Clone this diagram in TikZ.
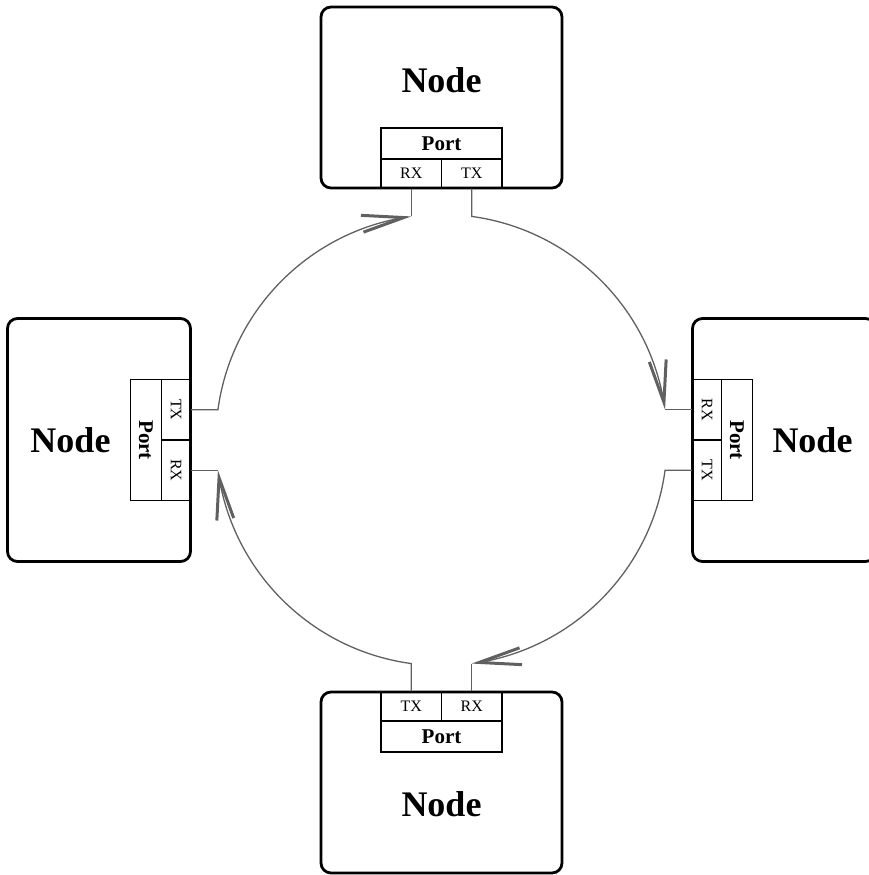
\documentclass[tikz,border=0pt]{standalone}
\usepackage{fontspec}
\setmainfont{Liberation Serif}
\usetikzlibrary{arrows.meta,bending}
\definecolor{wiregray}{RGB}{96,96,96}
\tikzset{
  nodebox/.style={draw=black, line width=2.8pt, rounded corners=10pt, inner sep=0pt},
  hbox/.style={nodebox, minimum width=241pt, minimum height=181pt},
  vbox/.style={nodebox, minimum width=183pt, minimum height=243pt},
  nodelabel/.style={font=\fontsize{36}{40}\selectfont\bfseries, inner sep=0pt},
  cell/.style={draw=black, line width=1.2pt, inner sep=0pt},
  portcell/.style={cell, minimum width=121pt, minimum height=31pt, font=\fontsize{21}{24}\selectfont\bfseries},
  rxtx/.style={cell, minimum width=60.5pt, minimum height=29pt, font=\fontsize{16}{18}\selectfont},
  wire/.style={draw=wiregray, line width=1.3pt},
  flow/.style={wire, -{Straight Barb[length=42pt, width=17pt, line width=3pt, line cap=butt]}}
}
\begin{document}
\begin{tikzpicture}[x=1pt,y=1pt]
\useasboundingbox (-441.5,-435) rectangle (427.5,440);

% ---- top node ----
\node[rxtx] (tRX) at (-30.25,266.5) {RX};
\node[rxtx] (tTX) at (30.25,266.5) {TX};
\node[portcell] (tPort) at (0,296.5) {Port};
\node[hbox] (top) at (0,342.5) {};
\node[nodelabel] (topL) at (0,360) {Node};

% ---- bottom node ----
\node[rxtx] (bTX) at (-30.25,-266.5) {TX};
\node[rxtx] (bRX) at (30.25,-266.5) {RX};
\node[portcell] (bPort) at (0,-296.5) {Port};
\node[hbox] (bottom) at (0,-342.5) {};
\node[nodelabel] (bottomL) at (0,-364) {Node};

% ---- left node ----
\node[rxtx, rotate=-90] (lTX) at (-265.5,30.25) {TX};
\node[rxtx, rotate=-90] (lRX) at (-265.5,-30.25) {RX};
\node[portcell, rotate=-90] (lPort) at (-295.5,0) {Port};
\node[vbox] (left) at (-342.5,0) {};
\node[nodelabel] (leftL) at (-371,0) {Node};

% ---- right node ----
\node[rxtx, rotate=-90] (rRX) at (265.5,30.25) {RX};
\node[rxtx, rotate=-90] (rTX) at (265.5,-30.25) {TX};
\node[portcell, rotate=-90] (rPort) at (295.5,0) {Port};
\node[vbox] (right) at (342.5,0) {};
\node[nodelabel] (rightL) at (371,0) {Node};

% ---- stub ends on the ring ----
\coordinate (tRXe) at (-30.25,223.56);
\coordinate (tTXe) at (30.25,223.56);
\coordinate (rRXe) at (223.56,30.25);
\coordinate (rTXe) at (223.56,-30.25);
\coordinate (bRXe) at (30.25,-223.56);
\coordinate (bTXe) at (-30.25,-223.56);
\coordinate (lTXe) at (-223.56,30.25);
\coordinate (lRXe) at (-223.56,-30.25);

% ---- receive stubs ----
\draw[wire] (rRXe) -- (rRX.south);
\draw[wire] (bRXe) -- (bRX.north);
\draw[wire] (lRXe) -- (lRX.north);
\draw[wire] (tRXe) -- (tRX.south);

% ---- ring ----
\draw[flow] (tTX.south) -- (tTXe) arc[start angle=82.294, end angle=7.706, radius=225.6];
\draw[flow] (rTX.south) -- (rTXe) arc[start angle=-7.706, end angle=-82.294, radius=225.6];
\draw[flow] (bTX.north) -- (bTXe) arc[start angle=262.294, end angle=187.706, radius=225.6];
\draw[flow] (lTX.north) -- (lTXe) arc[start angle=172.294, end angle=97.706, radius=225.6];
\end{tikzpicture}
\end{document}
